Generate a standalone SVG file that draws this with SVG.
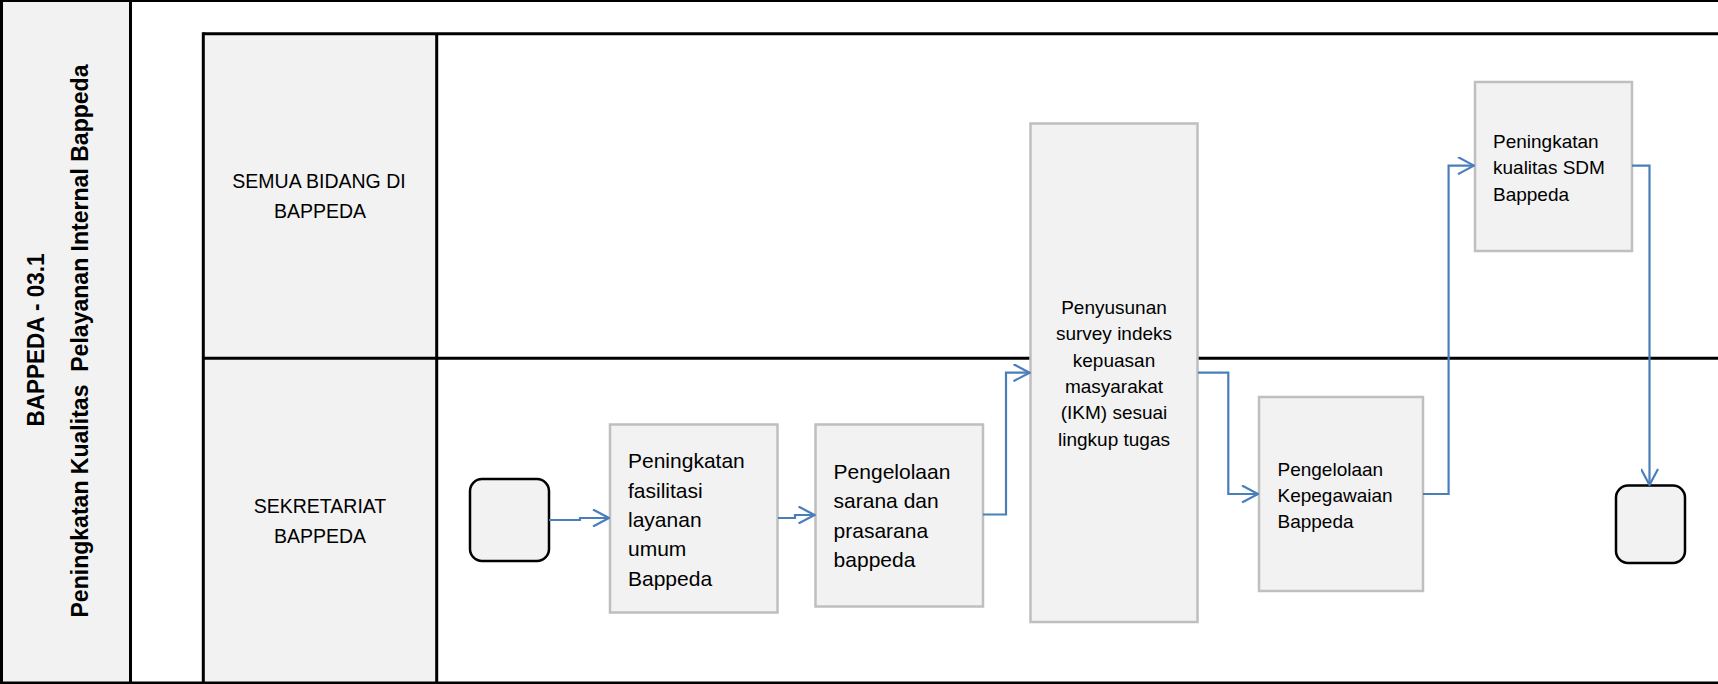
<svg xmlns="http://www.w3.org/2000/svg" width="1718" height="684" viewBox="0 0 1718 684">
<style>
.lane{stroke:#000;stroke-width:3;fill:none}
.hdr{fill:#f2f2f2;stroke:none}
.proc{fill:#f2f2f2;stroke:#bfbfbf;stroke-width:2.5}
.term{fill:#f2f2f2;stroke:#000;stroke-width:2.5}
.conn{fill:none;stroke:#4a7ebb;stroke-width:2.2}
.t{font-family:"Liberation Sans",Arial,sans-serif;fill:#000}
.title{font-family:"Liberation Sans",Arial,sans-serif;font-weight:bold;font-size:23.5px;fill:#000}
.lbl{font-size:19.5px}
.b21{font-size:21px}
.b19{font-size:19px}
</style>
<defs>
<marker id="arr" viewBox="0 0 18 18" refX="17" refY="9" markerWidth="18" markerHeight="18" markerUnits="userSpaceOnUse" orient="auto">
<path d="M1,0.5 L17,9 L1,17.5" fill="none" stroke="#4a7ebb" stroke-width="2.2"/>
</marker>
</defs>
<g id="pool">
<rect class="hdr" x="0" y="0" width="130.5" height="684"/>
<rect class="hdr" x="203.3" y="33.8" width="233.4" height="650"/>
<line class="lane" x1="0" y1="1" x2="1718" y2="1" style="stroke-width:2"/>
<line class="lane" x1="1.5" y1="0" x2="1.5" y2="684"/>
<line class="lane" x1="130.5" y1="0" x2="130.5" y2="684"/>
<line class="lane" x1="0" y1="683" x2="1718" y2="683"/>
<line class="lane" x1="203.3" y1="32.3" x2="203.3" y2="684"/>
<line class="lane" x1="203.3" y1="33.8" x2="1718" y2="33.8"/>
<line class="lane" x1="436.7" y1="33.8" x2="436.7" y2="684"/>
<line class="lane" x1="203.3" y1="358.3" x2="1718" y2="358.3"/>
<text class="title" text-anchor="middle" transform="translate(43.8,340) rotate(-90)" textLength="173" lengthAdjust="spacingAndGlyphs">BAPPEDA - 03.1</text>
<text class="title" text-anchor="middle" transform="translate(88.3,341) rotate(-90)" textLength="553" lengthAdjust="spacingAndGlyphs" xml:space="preserve">Peningkatan Kualitas  Pelayanan Internal Bappeda</text>
</g>
<g id="lane-semua">
<text class="t lbl" text-anchor="middle" x="319" y="187.7">SEMUA BIDANG DI</text>
<text class="t lbl" text-anchor="middle" x="320" y="218.3">BAPPEDA</text>
</g>
<g id="lane-sekretariat">
<text class="t lbl" text-anchor="middle" x="320" y="512.7">SEKRETARIAT</text>
<text class="t lbl" text-anchor="middle" x="320" y="543.3">BAPPEDA</text>
</g>
<g id="start">
<rect class="term" x="470" y="479" width="79" height="82" rx="12"/>
</g>
<g id="n1">
<rect class="proc" x="610" y="424.5" width="167.5" height="188"/>
<text class="t b21" x="628" y="468.3">Peningkatan</text>
<text class="t b21" x="628" y="497.6">fasilitasi</text>
<text class="t b21" x="628" y="526.9">layanan</text>
<text class="t b21" x="628" y="556.2">umum</text>
<text class="t b21" x="628" y="585.5">Bappeda</text>
</g>
<g id="n2">
<rect class="proc" x="815.5" y="424.5" width="167.5" height="182"/>
<text class="t b21" x="833.6" y="479">Pengelolaan</text>
<text class="t b21" x="833.6" y="508.3">sarana dan</text>
<text class="t b21" x="833.6" y="537.6">prasarana</text>
<text class="t b21" x="833.6" y="566.9">bappeda</text>
</g>
<g id="n3">
<rect class="proc" x="1030.5" y="123.5" width="167" height="498.5"/>
<text class="t b19" text-anchor="middle" x="1114" y="314">Penyusunan</text>
<text class="t b19" text-anchor="middle" x="1114" y="340.3">survey indeks</text>
<text class="t b19" text-anchor="middle" x="1114" y="366.6">kepuasan</text>
<text class="t b19" text-anchor="middle" x="1114" y="392.9">masyarakat</text>
<text class="t b19" text-anchor="middle" x="1114" y="419.2">(IKM) sesuai</text>
<text class="t b19" text-anchor="middle" x="1114" y="445.5">lingkup tugas</text>
</g>
<g id="n4">
<rect class="proc" x="1259" y="397" width="164" height="194"/>
<text class="t b19" x="1277.5" y="475.5">Pengelolaan</text>
<text class="t b19" x="1277.5" y="501.5">Kepegawaian</text>
<text class="t b19" x="1277.5" y="527.5">Bappeda</text>
</g>
<g id="n5">
<rect class="proc" x="1475" y="82" width="157" height="169"/>
<text class="t b19" x="1493" y="147.6">Peningkatan</text>
<text class="t b19" x="1493" y="174.3">kualitas SDM</text>
<text class="t b19" x="1493" y="201">Bappeda</text>
</g>
<g id="end">
<rect class="term" x="1616" y="485.5" width="69" height="77.5" rx="12"/>
</g>
<g id="connectors">
<path class="conn" marker-end="url(#arr)" d="M549,520 H580 V518 H609"/>
<path class="conn" marker-end="url(#arr)" d="M778,518 H795 V515 H814.5"/>
<path class="conn" marker-end="url(#arr)" d="M983,514.5 H1006 V372.7 H1029.5"/>
<path class="conn" marker-end="url(#arr)" d="M1198,372.7 H1228.3 V494 H1258"/>
<path class="conn" marker-end="url(#arr)" d="M1423,494 H1448.6 V165.6 H1474"/>
<path class="conn" marker-end="url(#arr)" d="M1632,165.6 H1649.5 V485"/>
</g>
</svg>
